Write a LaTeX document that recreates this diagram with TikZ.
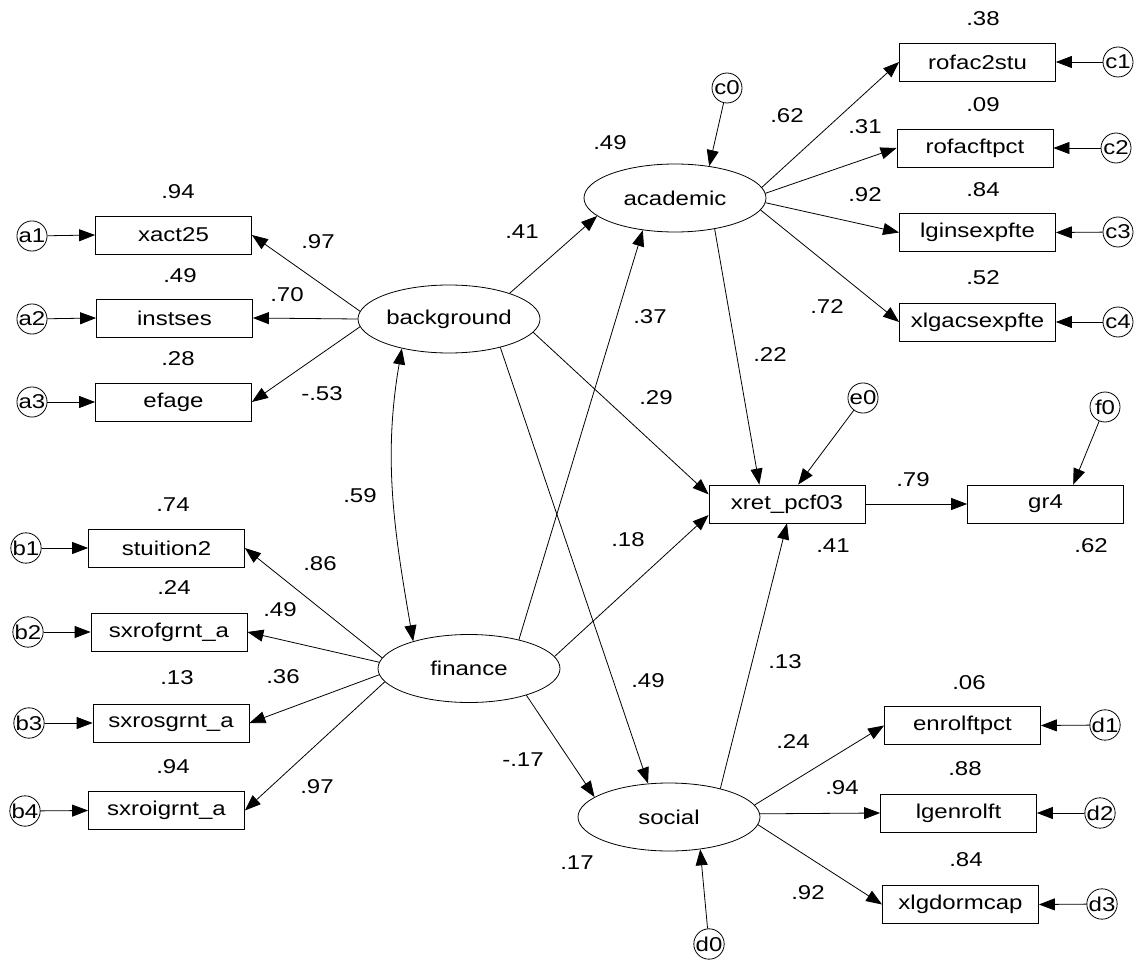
\documentclass[tikz,border=0pt]{standalone}
\usepackage{fontspec}
\setmainfont{Liberation Sans}[FakeStretch=1.2]
\usetikzlibrary{arrows.meta,shapes.geometric}

\begin{document}
\begin{tikzpicture}[x=1pt, y=-1pt, line width=0.8pt,
	every node/.style={font=\fontsize{20}{24}\selectfont},
	obs/.style={draw, rectangle, minimum width=156pt, minimum height=38pt, inner sep=0pt},
	lat/.style={draw, ellipse, minimum width=182pt, minimum height=68pt, inner sep=0pt},
	err/.style={draw, circle, minimum size=30pt, inner sep=0pt},
	arr/.style={-{Triangle[length=16pt,width=12pt]}}]
	\useasboundingbox (0,0) rectangle (1136,960);
	% latent variables
	\node[lat] (background) at (449,319) {background};
	\node[lat] (academic) at (675,198) {academic};
	\node[lat] (finance) at (469,668.5) {finance};
	\node[lat] (social) at (669,817) {social};
	% observed variables
	\node[obs] (xact25) at (173.5,235) {xact25};
	\node[obs] (instses) at (174.5,318) {instses};
	\node[obs] (efage) at (173.5,402) {efage};
	\node[obs] (stuition2) at (166.5,548) {stuition2};
	\node[obs] (sxrofgrnt) at (169,632) {sxrofgrnt\_a};
	\node[obs] (sxrosgrnt) at (171,723) {sxrosgrnt\_a};
	\node[obs] (sxroigrnt) at (166.5,810.5) {sxroigrnt\_a};
	\node[obs] (rofac2stu) at (977.5,62) {rofac2stu};
	\node[obs] (rofacftpct) at (975,148) {rofacftpct};
	\node[obs] (lginsexpfte) at (977.5,232.5) {lginsexpfte};
	\node[obs] (xlgacsexpfte) at (977.5,322) {xlgacsexpfte};
	\node[obs] (xret) at (787,504) {xret\_pcf03};
	\node[obs] (gr4) at (1045.5,504) {gr4};
	\node[obs] (enrolftpct) at (962.5,725.5) {enrolftpct};
	\node[obs] (lgenrolft) at (958.5,813) {lgenrolft};
	\node[obs] (xlgdormcap) at (960.5,904.5) {xlgdormcap};
	% error terms
	\foreach \e/\x/\y/\v in {a1/32/236/xact25, a2/32/319/instses, a3/32/402/efage,
		b1/26/548/stuition2, b2/28/632/sxrofgrnt, b3/29/723/sxrosgrnt, b4/25/811/sxroigrnt} {
		\node[err] (\e) at (\x,\y) {\e};
		\draw[arr] (\e) -- (\v.west);
	}
	\foreach \e/\x/\y/\v in {c1/1118/62/rofac2stu, c2/1116/148/rofacftpct, c3/1118/232/lginsexpfte,
		c4/1118/322/xlgacsexpfte, d1/1105/725/enrolftpct, d2/1100/813/lgenrolft, d3/1102/904/xlgdormcap} {
		\node[err] (\e) at (\x,\y) {\e};
		\draw[arr] (\e) -- (\v.east);
	}
	\node[err] (c0) at (727,88) {c0};
	\node[err] (e0) at (863,398) {e0};
	\node[err] (f0) at (1105,407) {f0};
	\node[err] (d0) at (709,944) {d0};
	% loadings
	\foreach \a/\v in {175/xact25, 180/instses, 185/efage}
		\draw[arr] (background.\a) -- (\v.east);
	\foreach \a/\v in {173/stuition2, 176/sxrofgrnt, 184/sxrosgrnt, 189/sxroigrnt}
		\draw[arr] (finance.\a) -- (\v.east);
	\foreach \a/\v in {7/rofac2stu, 3/rofacftpct, 357/lginsexpfte, 352/xlgacsexpfte}
		\draw[arr] (academic.\a) -- (\v.west);
	\foreach \a/\v in {8/enrolftpct, 2/lgenrolft, 355/xlgdormcap}
		\draw[arr] (social.\a) -- (\v.west);
	% structural paths
	\draw[arr] (background.23) -- (academic.193);
	\draw[arr] (background.351) -- (xret.173);
	\draw[arr] (background.331) -- (social.122);
	\draw[arr] (finance.30) -- (academic.225);
	\draw[arr] (finance.8) -- (xret.188);
	\draw[arr] (finance.335) -- (social.165);
	\draw[arr] (academic.322) -- (xret.145);
	\draw[arr] (social.29) -- (xret.south);
	\draw[arr] (xret.east) -- (gr4.west);
	\draw[arr] (c0) -- (academic.43);
	\draw[arr] (e0) -- (xret.60);
	\draw[arr] (f0) -- (gr4.35);
	\draw[arr] (d0) -- (social.314);
	\draw[{Triangle[length=16pt,width=12pt]}-{Triangle[length=16pt,width=12pt]}]
		(background.212) .. controls +(-19,110) and +(-19,-110) .. (finance.154);
	% squared multiple correlations
	\foreach \x/\y/\t [count=\i] in {610/143/.49, 577/863/.17, 833/546/.41, 1091/546/.62,
		178/192/.94, 180/276/.49, 178/359/.28, 173/505/.74, 174/588/.24, 177/678/.13, 173/767/.94,
		983/19/.38, 983/105/.09, 983/190/.84, 983/278/.52, 969/683/.06, 965/769/.88, 966/860/.84}
		\node (r\i) at (\x,\y) {\t};
	% path coefficients
	\foreach \x/\y/\t [count=\i] in {318/242/.97, 287/295/.70, 322/394/-.53,
		320/564/.86, 280/610/.49, 283/677/.36, 317/787/.97, 360/496/.59,
		522/232/.41, 650/317/.37, 656/398/.29, 628/540/.18, 770/355/.22, 648/681/.49,
		523/760/-.17, 785/662/.13, 787/116/.62, 865/127/.31, 865/195/.92, 827/307/.72,
		913/480/.79, 793/742/.24, 842/788/.94, 808/893/.92}
		\node (w\i) at (\x,\y) {\t};
\end{tikzpicture}
\end{document}
